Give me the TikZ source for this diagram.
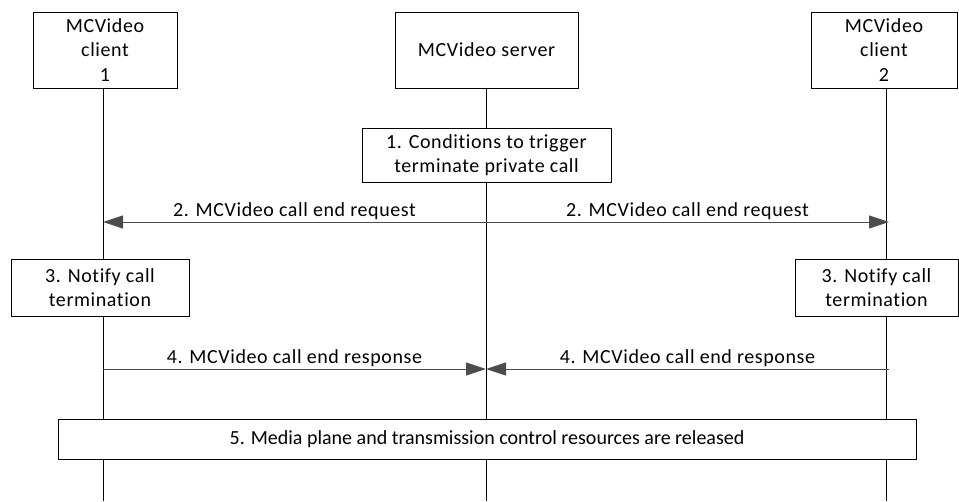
\documentclass[tikz,border=0pt]{standalone}
\usepackage{fontspec}
\setmainfont{Carlito}[LetterSpace=3,Ligatures={NoCommon,NoRare,NoContextual}]
\newfontfamily\plainfont{Carlito}[Ligatures={NoCommon,NoRare,NoContextual}]
\usetikzlibrary{arrows.meta,backgrounds}
\begin{document}
\begin{tikzpicture}[x=1pt,y=-1pt,
  box/.style={draw=black, line width=1pt, fill=white, align=center, inner sep=0pt, font=\fontsize{20}{24.5}\selectfont},
  life/.style={draw=black, line width=1pt},
  msg/.style={draw=black!70, line width=1pt, -{Triangle[length=20pt,width=13pt]}},
  lbl/.style={font=\fontsize{20}{24}\selectfont, inner sep=2pt, text=black}]
\useasboundingbox (0,0) rectangle (959,501);
% lifeline ends
\coordinate (e1) at (103,501);
\coordinate (es) at (486,501);
\coordinate (e2) at (886,501);
% actors
\node[box, minimum width=144pt, minimum height=76pt] (c1) at (105,50) {MCVideo\\client\\1};
\node[box, minimum width=183pt, minimum height=76pt] (srv) at (486.5,50) {MCVideo server};
\node[box, minimum width=146pt, minimum height=76pt] (c2) at (884,50) {MCVideo\\client\\2};
% steps
\node[box, minimum width=249pt, minimum height=54pt] (b1) at (486.5,155) {1. Conditions to trigger\\terminate private call};
\node[box, minimum width=178pt, minimum height=57pt] (b3l) at (100,287.5) {3. Notify call\\termination};
\node[box, minimum width=163pt, minimum height=57pt] (b3r) at (876.5,287.5) {3. Notify call\\termination};
\node[box, minimum width=858pt, minimum height=40pt, font=\plainfont\fontsize{20}{24}\selectfont] (b5) at (487,439) {5. Media plane and transmission control resources are released};
\begin{scope}[on background layer]
\draw[life] (c1.south -| e1) -- (e1);
\draw[life] (srv.south -| es) -- (es);
\draw[life] (c2.south -| e2) -- (e2);
\end{scope}
% messages
\coordinate (m2s) at (486,222);
\coordinate (m2a) at (103,222);
\coordinate (m2b) at (889,222);
\draw[msg] (m2s) -- (m2a) node[midway, above, lbl] {2. MCVideo call end request};
\draw[msg] (m2s) -- (m2b) node[midway, above, lbl] {2. MCVideo call end request};
\coordinate (m4s) at (486,369);
\coordinate (m4a) at (103,369);
\coordinate (m4b) at (889,369);
\draw[msg] (m4a) -- (m4s) node[midway, above, lbl] {4. MCVideo call end response};
\draw[msg] (m4b) -- (m4s) node[midway, above, lbl] {4. MCVideo call end response};
\end{tikzpicture}
\end{document}
